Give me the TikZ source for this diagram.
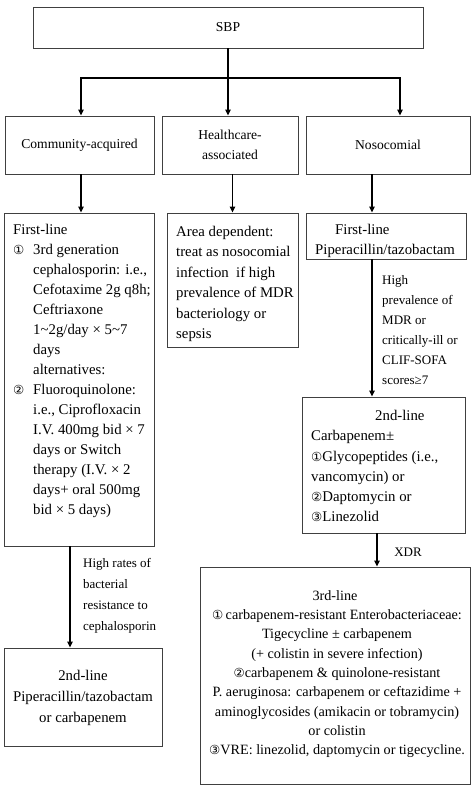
\documentclass[tikz,border=0pt]{standalone}
\usepackage{fontspec}
\setmainfont{Liberation Serif}
\newfontfamily\symf{DejaVu Sans}
\usetikzlibrary{arrows.meta,calc}
\newcommand{\cnum}[1]{{\symf\fontsize{12.5}{12}\selectfont #1}}
\begin{document}
\begin{tikzpicture}[x=1pt,y=-1pt,
  box/.style={draw=black!75, line width=0.9pt, rectangle, inner sep=0pt},
  toptxt/.style={font=\fontsize{13.6}{20}\selectfont, align=center},
  bodytxt/.style={font=\fontsize{14.8}{20}\selectfont, align=left, inner sep=0pt},
  lbl/.style={font=\fontsize{13}{20}\selectfont, align=left, inner sep=0pt},
  arr/.style={line width=1.4pt, -{Triangle[length=6pt,width=5.5pt]}},
  ln/.style={line width=1.4pt}]
\useasboundingbox (0,0) rectangle (474,791);

% boxes
\node[box, toptxt, minimum width=390pt, minimum height=41pt] (sbp) at (228,27.5) {SBP};
\node[box, toptxt, minimum width=149pt, minimum height=58pt] (comm) at (79.5,145) {Community-acquired};
\node[box, toptxt, minimum width=136pt, minimum height=58pt] (hc) at (230,145) {Healthcare-\\associated};
\node[box, toptxt, minimum width=164pt, minimum height=58pt] (noso) at (388,145) {Nosocomial};

\node[box, minimum width=150pt, minimum height=333pt] (fl1) at (79,379.5) {};
\node[box, minimum width=131pt, minimum height=134pt] (hcbox) at (232.5,280) {};
\node[box, minimum width=160pt, minimum height=46pt] (nfl) at (386,236) {};
\node[box, minimum width=163pt, minimum height=136pt] (n2) at (383.5,465) {};
\node[box, minimum width=270pt, minimum height=217pt] (n3) at (335,675.5) {};
\node[box, minimum width=158pt, minimum height=98pt] (l2) at (83,697) {};

% texts
\node[bodytxt, anchor=north west] (fl1t) at (13,220) {\strut First-line\\
\makebox[20pt][l]{\cnum{①}}3rd generation\\
\hspace*{20pt}cephalosporin: i.e.,\\
\hspace*{20pt}Cefotaxime 2g q8h;\\
\hspace*{20pt}Ceftriaxone\\
\hspace*{20pt}1\textasciitilde2g/day × 5\textasciitilde7\\
\hspace*{20pt}days\\
\hspace*{20pt}alternatives:\\
\makebox[20pt][l]{\cnum{②}}Fluoroquinolone:\\
\hspace*{20pt}i.e., Ciprofloxacin\\
\hspace*{20pt}I.V. 400mg bid × 7\\
\hspace*{20pt}days or Switch\\
\hspace*{20pt}therapy (I.V. × 2\\
\hspace*{20pt}days+ oral 500mg\\
\hspace*{20pt}bid × 5 days)};

\node[bodytxt, anchor=north west, font=\fontsize{14.8}{20.4}\selectfont] (hct) at (176,222) {\strut Area dependent:\\
treat as nosocomial\\
infection\ \ if high\\
prevalence of MDR\\
bacteriology or\\
sepsis};

\node[bodytxt, anchor=north west] (nflt) at (315,220) {\strut\hspace*{20pt}First-line\\
Piperacillin/tazobactam};

\node[bodytxt, anchor=north west, font=\fontsize{14.8}{20.3}\selectfont] (n2t) at (311,406) {\strut\hspace*{64pt}2nd-line\\
Carbapenem±\\
\cnum{①}Glycopeptides (i.e.,\\
vancomycin) or\\
\cnum{②}Daptomycin or\\
\cnum{③}Linezolid};

\node[bodytxt, anchor=north, align=center, font=\fontsize{14.8}{21}\selectfont] (l2t) at (83,666) {\strut 2nd-line\\
Piperacillin/tazobactam\\
or carbapenem};

\node[bodytxt, anchor=north, align=center, font=\fontsize{14.2}{19.3}\selectfont] (n3t) at (337,586.5) {\strut 3rd-line\hspace*{4pt}\\
\cnum{①}\,carbapenem-resistant Enterobacteriaceae:\\
Tigecycline ± carbapenem\hspace*{12pt}\\
(+ colistin in severe infection)\hspace*{30pt}\\
\cnum{②}carbapenem \& quinolone-resistant\hspace*{58pt}\\
P. aeruginosa: carbapenem or ceftazidime +\\
aminoglycosides (amikacin or tobramycin)\\
or colistin\hspace*{4pt}\\
\cnum{③}VRE: linezolid, daptomycin or tigecycline.};

% labels
\node[lbl, anchor=north west] (nlbl) at (382,270) {\strut High\\
prevalence of\\
MDR or\\
critically-ill or\\
CLIF-SOFA\\
scores≥7};
\node[lbl, anchor=north west, font=\fontsize{13}{21}\selectfont] (llbl) at (83,552.3) {\strut High rates of\\
bacterial\\
resistance to\\
cephalosporin};
\node[lbl] (xdr) at (408,552) {XDR};

% connectors
\coordinate (j) at (228,78);
\draw[ln] (sbp.south) -- (j);
\draw[arr] (j) -| ([xshift=1.5pt]comm.north);
\draw[arr] (j) -- (j |- hc.north);
\draw[arr] (j) -| ([xshift=12pt]noso.north);
\draw[arr] ([xshift=1.5pt]comm.south) -- ([xshift=1.5pt]comm.south |- fl1.north);
\draw[arr] (hcbox.north |- hc.south) -- (hcbox.north);
\draw[arr] ([xshift=-16pt]noso.south) -- ([xshift=-16pt]noso.south |- nfl.north);
\draw[arr] ([xshift=-14pt]nfl.south) -- ([xshift=-14pt]nfl.south |- n2.north);
\draw[arr] ([xshift=-6.5pt]n2.south) -- ([xshift=-6.5pt]n2.south |- n3.north);
\draw[arr] ([xshift=-9pt]fl1.south) -- ([xshift=-9pt]fl1.south |- l2.north);
\end{tikzpicture}
\end{document}
